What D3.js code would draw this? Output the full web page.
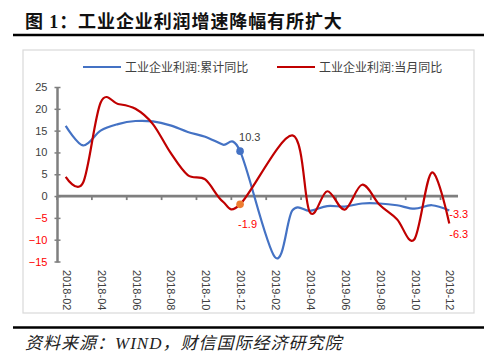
<!DOCTYPE html>
<html><head><meta charset="utf-8">
<script src="https://cdn.jsdelivr.net/npm/d3@7/dist/d3.min.js"></script>
<style>
html,body{margin:0;padding:0;background:#fff;}
svg{display:block;}
</style></head>
<body>
<svg id="chart" width="500" height="356"></svg>
<script>
// ---- data ----
const months = ["2018-02","2018-03","2018-04","2018-05","2018-06","2018-07","2018-08","2018-09","2018-10","2018-11","2018-12",
  "2019-01","2019-02","2019-03","2019-04","2019-05","2019-06","2019-07","2019-08","2019-09","2019-10","2019-11","2019-12"];
const cumulative = [16.1,11.6,15.0,16.5,17.2,17.1,16.2,14.7,13.6,11.8,10.3,
  null,-14.0,-3.3,-3.4,-2.3,-2.4,-1.7,-1.7,-2.1,-2.9,-2.1,-3.3];
const monthly = [4.4,3.1,21.4,21.1,20.0,16.5,10.0,4.8,3.8,-1.2,-1.9,
  null,null,13.9,-3.7,1.1,-3.1,2.6,-2.0,-5.3,-9.9,5.4,-6.3];
const seriesNames = ["工业企业利润:累计同比","工业企业利润:当月同比"];
const yTicks = [-15,-10,-5,0,5,10,15,20,25];
const xTickLabels = months.filter((m,i)=>i%2===0);
const title = "图 1：工业企业利润增速降幅有所扩大";
const source = "资料来源：WIND，财信国际经济研究院";
const highlight = {month:"2018-12"};

// ---- drawing ----
const svg = d3.select("#chart");
const blue = "#4472C4", red = "#C00000", orange = "#ED7D31", neg = "#FF0000", txt = "#404040", axisCol = "#7f7f7f";
const cjk = "'Liberation Serif','Noto Sans CJK SC'";
const sans = "'Liberation Sans','Noto Sans CJK SC'";

// title
svg.append("text").attr("x",25).attr("y",28).text(title)
  .attr("font-family",cjk).attr("font-weight","bold").attr("font-size",18)
  .attr("letter-spacing","0.9px").attr("fill","#111");
svg.append("line").attr("x1",13).attr("x2",484).attr("y1",35).attr("y2",35)
  .attr("stroke","#000").attr("stroke-width",2.6);

// chart frame
svg.append("rect").attr("x",23).attr("y",50).attr("width",451).attr("height",263)
  .attr("fill","#fff").attr("stroke","#d9d9d9").attr("stroke-width",1.2);

// scales
const x = d3.scaleBand().domain(months).range([57,458]).paddingInner(0).paddingOuter(0);
const cx = m => x(m) + x.bandwidth()/2;
const y = d3.scaleLinear().domain([-15,25]).range([261.5,87]);

// y axis
const yAxis = svg.append("g").attr("transform","translate(57.5,0)")
  .call(d3.axisLeft(y).tickValues(yTicks).tickSize(0).tickPadding(10).tickFormat(d3.format("d")));
yAxis.select(".domain").remove();
yAxis.selectAll("text").attr("font-family",sans).attr("font-size",11)
  .attr("fill",d=>d<0?neg:txt);
svg.append("line").attr("x1",57.5).attr("x2",57.5).attr("y1",y(25)).attr("y2",y(-15)+1)
  .attr("stroke",axisCol).attr("stroke-width",2.5);
yAxis.selectAll(".tick").append("line").attr("x1",-3).attr("x2",3).attr("stroke",axisCol).attr("stroke-width",1.5);

// x axis at zero
const xAxisG = svg.append("g").attr("transform",`translate(0,${y(0)})`);
xAxisG.append("line").attr("x1",57).attr("x2",458).attr("stroke",axisCol).attr("stroke-width",2.8);
xAxisG.selectAll("line.tk").data(xTickLabels).join("line").attr("class","tk")
  .attr("x1",d=>x(d)).attr("x2",d=>x(d)).attr("y1",0).attr("y2",4)
  .attr("stroke",axisCol).attr("stroke-width",1.8);

// x labels (rotated)
svg.selectAll("text.xl").data(xTickLabels).join("text").attr("class","xl")
  .attr("transform",d=>`translate(${cx(d)+1},270) rotate(90)`)
  .attr("dy","0.35em").attr("text-anchor","start")
  .attr("font-family",sans).attr("font-size",11).attr("fill",txt).text(d=>d);

// lines
const line = d3.line().x(d=>cx(d.m)).y(d=>y(d.v)).curve(d3.curveCardinal.tension(0));
const toPts = arr => months.map((m,i)=>({m, v:arr[i]})).filter(d=>d.v!==null);
const cumPts = toPts(cumulative), monPts = toPts(monthly);
svg.append("path").attr("d",line(cumPts)).attr("fill","none").attr("stroke",blue).attr("stroke-width",2.2);
svg.append("path").attr("d",line(monPts)).attr("fill","none").attr("stroke",red).attr("stroke-width",2.2);

// markers at 2018-12
const hi = months.indexOf(highlight.month);
svg.append("circle").attr("cx",cx(months[hi])).attr("cy",y(cumulative[hi])).attr("r",3.8).attr("fill",blue);
svg.append("circle").attr("cx",cx(months[hi])).attr("cy",y(monthly[hi])).attr("r",3.8).attr("fill",orange);
svg.append("text").attr("x",cx(months[hi])-1).attr("y",y(cumulative[hi])-10)
  .attr("font-family",sans).attr("font-size",11).attr("fill",txt).text(cumulative[hi].toFixed(1));
svg.append("text").attr("x",cx(months[hi])-2).attr("y",y(monthly[hi])+24)
  .attr("font-family",sans).attr("font-size",11).attr("fill",neg).text(monthly[hi].toFixed(1));

// end labels
const last = months.length-1;
svg.append("text").attr("x",cx(months[last])).attr("y",y(cumulative[last])+8)
  .attr("font-family",sans).attr("font-size",11).attr("fill",neg).text(cumulative[last].toFixed(1));
svg.append("text").attr("x",cx(months[last])).attr("y",y(monthly[last])+14)
  .attr("font-family",sans).attr("font-size",11).attr("fill",neg).text(monthly[last].toFixed(1));

// legend
const leg = [{name:seriesNames[0],c:blue,x:83},{name:seriesNames[1],c:red,x:277}];
const lg = svg.selectAll("g.leg").data(leg).join("g").attr("class","leg");
lg.append("line").attr("x1",d=>d.x).attr("x2",d=>d.x+38).attr("y1",67).attr("y2",67)
  .attr("stroke",d=>d.c).attr("stroke-width",2.2);
lg.append("text").attr("x",d=>d.x+42).attr("y",71.5).text(d=>d.name)
  .attr("font-family",sans).attr("font-size",12).attr("fill",txt);

// source
svg.append("line").attr("x1",13).attr("x2",484).attr("y1",327.5).attr("y2",327.5)
  .attr("stroke","#000").attr("stroke-width",2.4);
svg.append("text").attr("x",25).attr("y",349).text(source)
  .attr("font-family",cjk).attr("font-style","italic").attr("font-size",17)
  .attr("letter-spacing","1px").attr("fill","#222");
</script>
</body></html>
